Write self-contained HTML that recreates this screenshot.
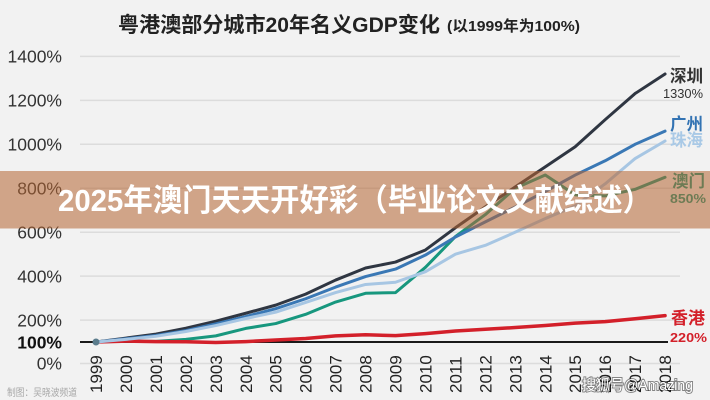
<!DOCTYPE html>
<html>
<head>
<meta charset="utf-8">
<style>
html,body{margin:0;padding:0;background:#f2f2f2;width:710px;height:400px;overflow:hidden;}
svg{display:block;}
</style>
</head>
<body>
<svg width="710" height="400" viewBox="0 0 710 400" font-family="'Liberation Sans','Noto Sans CJK SC',sans-serif">
  <rect width="710" height="400" fill="#f2f2f2"/>

  <!-- Title -->
  <text x="118" y="32" font-size="21" font-weight="bold" fill="#222" textLength="322" lengthAdjust="spacingAndGlyphs">粤港澳部分城市20年名义GDP变化</text>
  <text x="447" y="31" font-size="15" font-weight="bold" fill="#222" textLength="133" lengthAdjust="spacingAndGlyphs">(以1999年为100%)</text>

  <!-- Gridlines -->
  <g stroke="#dcdcdc" stroke-width="1.5">
    <line x1="80" y1="56.4" x2="680" y2="56.4"/>
    <line x1="80" y1="100.4" x2="680" y2="100.4"/>
    <line x1="80" y1="144.3" x2="680" y2="144.3"/>
    <line x1="80" y1="188.2" x2="680" y2="188.2"/>
    <line x1="80" y1="232.2" x2="680" y2="232.2"/>
    <line x1="80" y1="276.1" x2="680" y2="276.1"/>
    <line x1="80" y1="320.1" x2="680" y2="320.1"/>
    <line x1="80" y1="363.5" x2="680" y2="363.5"/>
  </g>

  <!-- Y labels -->
  <g font-size="17.5" fill="#333" text-anchor="end">
    <text x="62" y="62.5">1400%</text>
    <text x="62" y="106.5">1200%</text>
    <text x="62" y="150.5">1000%</text>
    <text x="62" y="194.5">800%</text>
    <text x="62" y="238.5">600%</text>
    <text x="62" y="282.5">400%</text>
    <text x="62" y="326.5">200%</text>
    <text x="62" y="348.5" font-weight="bold" fill="#111">100%</text>
    <text x="62" y="369.5">0%</text>
  </g>

  <!-- Baseline -->
  <line x1="80" y1="342" x2="668" y2="342" stroke="#1a1a1a" stroke-width="2"/>

  <!-- Series -->
  <g fill="none" stroke-width="3" stroke-linejoin="round" stroke-linecap="round">
    <!-- Macau -->
    <polyline stroke="#17977e" points="96,342.03 125.95,341.15 155.9,341.37 185.85,339.39 215.8,335.88 245.75,328.41 275.7,323.58 305.65,314.35 335.6,302.04 365.55,293.26 395.5,292.6 425.45,267.33 455.4,236.57 485.35,214.6 515.3,188.24 545.25,175.06 575.2,194.83 605.15,195.93 635.1,189.34 665.05,177.26"/>
    <!-- Hong Kong -->
    <polyline stroke="#d3202a" stroke-width="3.5" points="96,342.03 125.95,341.15 155.9,341.59 185.85,341.81 215.8,342.47 245.75,341.59 275.7,340.05 305.65,338.51 335.6,335.88 365.55,334.78 395.5,335.66 425.45,333.68 455.4,331.04 485.35,329.29 515.3,327.53 545.25,325.55 575.2,323.14 605.15,321.6 635.1,318.74 665.05,315.67"/>
    <!-- Shenzhen -->
    <polyline stroke="#2f3642" points="96,342.03 125.95,338.07 155.9,334.12 185.85,328.19 215.8,321.16 245.75,313.25 275.7,305.12 305.65,294.14 335.6,280.07 365.55,267.99 395.5,262.06 425.45,249.98 455.4,227.79 485.35,206.91 515.3,186.92 545.25,166.93 575.2,146.72 605.15,119.69 635.1,93.55 665.05,74"/>
    <!-- Guangzhou -->
    <polyline stroke="#3a78b5" points="96,342.03 125.95,338.73 155.9,335.44 185.85,330.61 215.8,323.79 245.75,316.54 275.7,308.64 305.65,298.75 335.6,287.1 365.55,276.56 395.5,269.09 425.45,255.03 455.4,237.01 485.35,221.86 515.3,206.91 545.25,191.54 575.2,175.06 605.15,160.78 635.1,144.3 665.05,131.12"/>
    <!-- Zhuhai -->
    <polyline stroke="#a7c6e3" points="96,342.03 125.95,339.39 155.9,336.32 185.85,331.48 215.8,325.55 245.75,318.52 275.7,312.15 305.65,302.48 335.6,292.6 365.55,284.47 395.5,282.27 425.45,271.7 455.4,254.15 485.35,245.36 515.3,232.18 545.25,218.56 575.2,205.82 605.15,183.85 635.1,158.58 665.05,141"/>
  </g>
  <circle cx="96" cy="342" r="3.5" fill="#5b7c8c"/>

  <!-- Right labels -->
  <g font-weight="bold">
    <text x="670" y="82" font-size="17" fill="#333" textLength="33" lengthAdjust="spacingAndGlyphs">深圳</text>
    <text x="663" y="98" font-size="13" fill="#333" font-weight="normal" textLength="40" lengthAdjust="spacingAndGlyphs">1330%</text>
    <text x="670" y="130" font-size="17" fill="#3373b3" textLength="33" lengthAdjust="spacingAndGlyphs">广州</text>
    <text x="670" y="146" font-size="17" fill="#a9c9e6" textLength="33" lengthAdjust="spacingAndGlyphs">珠海</text>
    <text x="672" y="187" font-size="17" fill="#17977e" textLength="33" lengthAdjust="spacingAndGlyphs">澳门</text>
    <text x="670" y="203" font-size="13" fill="#17977e" textLength="36" lengthAdjust="spacingAndGlyphs">850%</text>
    <text x="671" y="324" font-size="17" fill="#d3202a" textLength="34" lengthAdjust="spacingAndGlyphs">香港</text>
    <text x="670" y="342" font-size="13" fill="#d3202a" textLength="37" lengthAdjust="spacingAndGlyphs">220%</text>
  </g>

  <!-- X labels -->
  <g font-size="17" fill="#222">
    <text transform="translate(102,393) rotate(-90)">1999</text>
    <text transform="translate(131.95,393) rotate(-90)">2000</text>
    <text transform="translate(161.9,393) rotate(-90)">2001</text>
    <text transform="translate(191.85,393) rotate(-90)">2002</text>
    <text transform="translate(221.8,393) rotate(-90)">2003</text>
    <text transform="translate(251.75,393) rotate(-90)">2004</text>
    <text transform="translate(281.7,393) rotate(-90)">2005</text>
    <text transform="translate(311.65,393) rotate(-90)">2006</text>
    <text transform="translate(341.6,393) rotate(-90)">2007</text>
    <text transform="translate(371.55,393) rotate(-90)">2008</text>
    <text transform="translate(401.5,393) rotate(-90)">2009</text>
    <text transform="translate(431.45,393) rotate(-90)">2010</text>
    <text transform="translate(461.4,393) rotate(-90)">2011</text>
    <text transform="translate(491.35,393) rotate(-90)">2012</text>
    <text transform="translate(521.3,393) rotate(-90)">2013</text>
    <text transform="translate(551.25,393) rotate(-90)">2014</text>
    <text transform="translate(581.2,393) rotate(-90)">2015</text>
    <text transform="translate(611.15,393) rotate(-90)">2016</text>
    <text transform="translate(641.1,393) rotate(-90)">2017</text>
    <text transform="translate(671.05,393) rotate(-90)">2018</text>
  </g>

  <!-- Watermarks -->
  <text x="7" y="396" font-size="10" fill="#a8a8a8" textLength="70" lengthAdjust="spacingAndGlyphs">制图：吴晓波频道</text>
  <text x="582" y="390" font-size="15" fill="#ffffff" stroke="rgba(0,0,0,0.45)" stroke-width="2" paint-order="stroke" textLength="111" lengthAdjust="spacingAndGlyphs">搜狐号@Amazing</text>

  <!-- Banner -->
  <rect x="0" y="171" width="710" height="57.5" fill="rgba(180,100,50,0.55)"/>
  <text x="58" y="211" font-size="31" font-weight="bold" fill="#ffffff" textLength="594" lengthAdjust="spacingAndGlyphs">2025年澳门天天开好彩（毕业论文文献综述）</text>
</svg>
</body>
</html>
